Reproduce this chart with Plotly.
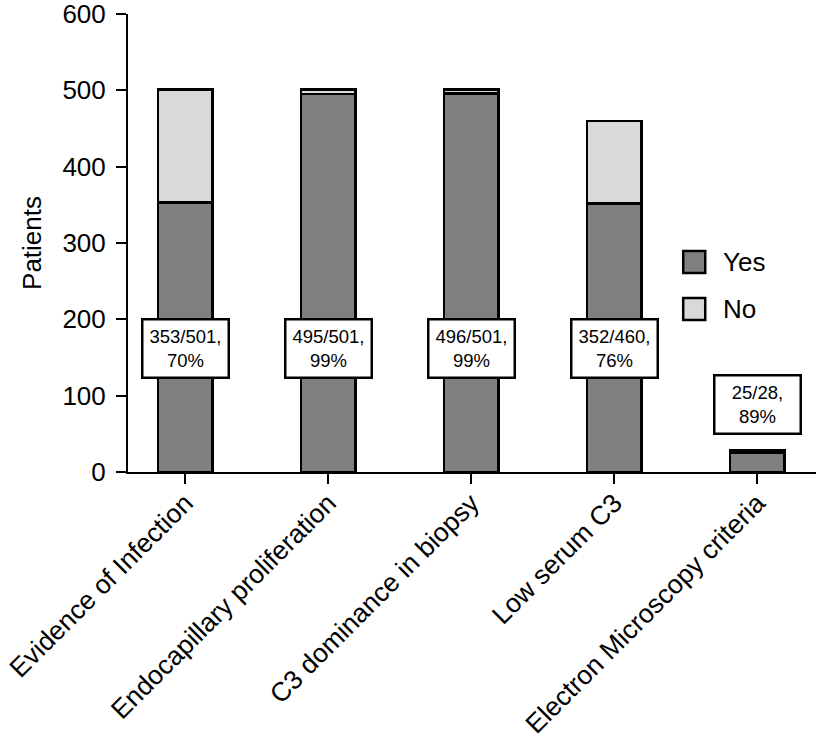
import plotly.graph_objects as go

# Data
categories = [
    "Evidence of Infection",
    "Endocapillary proliferation",
    "C3 dominance in biopsy",
    "Low serum C3",
    "Electron Microscopy criteria",
]
yes_counts = [353, 495, 496, 352, 25]
totals = [501, 501, 501, 460, 28]
no_counts = [t - y for t, y in zip(totals, yes_counts)]
percents = [70, 99, 99, 76, 89]

# label box positions (style, not data)
label_y = [162, 162, 162, 162, 89]

FONT = "Arial, Liberation Sans, sans-serif"

fig = go.Figure()

# Yes part of each bar
fig.add_trace(go.Bar(
    x=categories,
    y=yes_counts,
    name="Yes",
    width=0.38,
    marker=dict(color="#808080", line=dict(color="black", width=2.5)),
))

# No part stacked on top
fig.add_trace(go.Bar(
    x=categories,
    y=no_counts,
    name="No",
    width=0.38,
    marker=dict(color="#d9d9d9", line=dict(color="black", width=2.5)),
))

# boxed labels "yes/total, pct%"
for cat, y, t, p, ly in zip(categories, yes_counts, totals, percents, label_y):
    fig.add_annotation(
        x=cat, y=ly, xref="x", yref="y",
        text=f"{y}/{t},<br>{p}%",
        showarrow=False,
        font=dict(family=FONT, size=18.5, color="black"),
        bgcolor="white",
        bordercolor="black",
        borderwidth=2.5,
        borderpad=2,
        width=80, height=52,
        align="center",
    )

# hand-made legend (bigger squares than plotly's own)
legend_items = [("Yes", "#808080", 0.4585), ("No", "#d9d9d9", 0.356)]
for name, color, yc in legend_items:
    fig.add_shape(
        type="rect", xref="paper", yref="paper",
        x0=0.807, x1=0.839, y0=yc - 0.024, y1=yc + 0.024,
        fillcolor=color, line=dict(color="black", width=2.5),
    )
    fig.add_annotation(
        x=0.862, y=yc, xref="paper", yref="paper",
        text=name, showarrow=False, xanchor="left", yanchor="middle",
        font=dict(family=FONT, size=26, color="black"),
    )

fig.update_layout(
    barmode="stack",
    width=816,
    height=746,
    margin=dict(l=128, r=0, t=14, b=274, autoexpand=False),
    plot_bgcolor="white",
    paper_bgcolor="white",
    showlegend=False,
    font=dict(family=FONT, size=26, color="black"),
    xaxis=dict(
        type="category",
        range=[-0.4, 4.41],
        showline=True, linecolor="black", linewidth=2,
        ticks="outside", ticklen=10, tickwidth=2, tickcolor="black",
        tickangle=-45,
        tickfont=dict(family=FONT, size=26.5, color="black"),
        ticklabeloverflow="allow",
        ticklabelstandoff=-7,
        showgrid=False, zeroline=False,
    ),
    yaxis=dict(
        range=[0, 600],
        tickvals=[0, 100, 200, 300, 400, 500, 600],
        showline=True, linecolor="black", linewidth=2,
        ticks="outside", ticklen=10, tickwidth=2, tickcolor="black",
        tickfont=dict(family=FONT, size=26, color="black"),
        ticklabeloverflow="allow",
        ticklabelstandoff=5,
        title=dict(text="Patients", font=dict(family=FONT, size=26), standoff=13),
        showgrid=False, zeroline=False,
    ),
)

# drop the default page margin so the figure sits at the window corner
fig.write_html(
    "out.html",
    config={"displayModeBar": False},
    post_script="document.body.style.margin='0';",
)
